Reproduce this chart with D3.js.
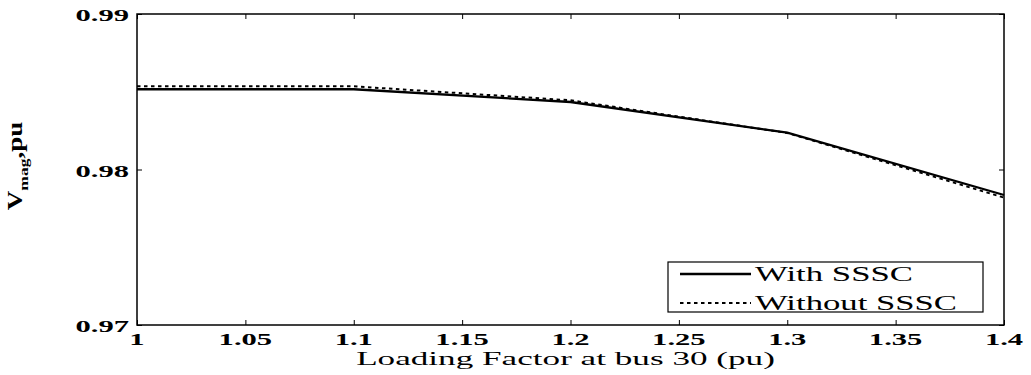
<!DOCTYPE html>
<html>
<head>
<meta charset="utf-8">
<script src="https://cdn.jsdelivr.net/npm/d3@7"></script>
<style>
  body { margin: 0; background: #fff; }
  text { font-family: "Liberation Serif", "DejaVu Serif", serif; fill: #000; }
</style>
</head>
<body>
<div id="chart"></div>
<script>
(function() {
	// loading factor at bus 30 and voltage magnitude (pu)
	var loading = [1, 1.1, 1.2, 1.3, 1.4];
	var withSSSC = [0.98516, 0.98516, 0.98434, 0.98237, 0.97836];
	var withoutSSSC = [0.98535, 0.98535, 0.98445, 0.98235, 0.97819];

	var xTicks = [1, 1.05, 1.1, 1.15, 1.2, 1.25, 1.3, 1.35, 1.4];
	var xTickLabels = ["1", "1.05", "1.1", "1.15", "1.2", "1.25", "1.3", "1.35", "1.4"];
	var yTicks = [0.97, 0.98, 0.99];
	var yTickLabels = ["0.97", "0.98", "0.99"];

	var seriesNames = ["With SSSC", "Without SSSC"];

	var margin = { top: 14, left: 137, right: 27, bottom: 50 },
		width = 1031 - margin.left - margin.right,
		height = 375 - margin.top - margin.bottom;

	var stretch = 1.8;   // the figure's text is drawn wide

	var svg = d3.select("#chart")
				.append("svg")
				.attr("width", 1031)
				.attr("height", 375);

	var g = svg.append("g")
				.attr("transform", "translate(" + margin.left + "," + margin.top + ")");

	var x = d3.scaleLinear().domain([1, 1.4]).range([0, width]);
	var y = d3.scaleLinear().domain([0.97, 0.99]).range([height, 0]);

	// inward ticks on all four sides, matlab style
	var tickLen = 5;
	var xAxisB = d3.axisBottom(x).tickValues(xTicks).tickSizeInner(-tickLen).tickSizeOuter(0).tickFormat("");
	var xAxisT = d3.axisTop(x).tickValues(xTicks).tickSizeInner(-tickLen).tickSizeOuter(0).tickFormat("");
	var yAxisL = d3.axisLeft(y).tickValues(yTicks).tickSizeInner(-tickLen).tickSizeOuter(0).tickFormat("");
	var yAxisR = d3.axisRight(y).tickValues(yTicks).tickSizeInner(-tickLen).tickSizeOuter(0).tickFormat("");

	g.append("g").attr("transform", "translate(0," + height + ")").call(xAxisB);
	g.append("g").call(xAxisT);
	g.append("g").call(yAxisL);
	g.append("g").attr("transform", "translate(" + width + ",0)").call(yAxisR);
	g.selectAll(".domain").remove();
	g.selectAll(".tick line").attr("stroke", "#000").attr("stroke-width", 1);

	g.append("rect")
		.attr("x", 0).attr("y", 0)
		.attr("width", width).attr("height", height)
		.attr("fill", "none")
		.attr("stroke", "#000")
		.attr("stroke-width", 1.5);

	// tick labels
	g.selectAll(".xlab")
		.data(xTicks)
		.enter()
		.append("text")
		.attr("class", "xlab")
		.attr("transform", function(d) {
			return "translate(" + x(d) + "," + (height + 20) + ") scale(" + stretch + ",1)"; })
		.attr("text-anchor", "middle")
		.style("font-size", "17px")
		.style("font-weight", "bold")
		.text(function(d, i) { return xTickLabels[i]; });

	g.selectAll(".ylab")
		.data(yTicks)
		.enter()
		.append("text")
		.attr("class", "ylab")
		.attr("transform", function(d) {
			return "translate(-8," + (y(d) + 7) + ") scale(" + stretch + ",1)"; })
		.attr("text-anchor", "end")
		.style("font-size", "17px")
		.style("font-weight", "bold")
		.text(function(d, i) { return yTickLabels[i]; });

	// axis titles
	g.append("text")
		.attr("transform", "translate(" + (width / 2 - 5) + "," + (height + 40) + ") scale(1.85,1)")
		.attr("text-anchor", "middle")
		.style("font-size", "19px")
		.text("Loading Factor at bus 30 (pu)");

	var yt = svg.append("text")
		.attr("transform", "translate(22,166) rotate(-90) scale(1.35,1)")
		.attr("text-anchor", "middle")
		.style("font-size", "20px")
		.style("font-weight", "bold");
	yt.append("tspan").text("V");
	yt.append("tspan").attr("dy", 6).style("font-size", "13px").text("mag");
	yt.append("tspan").attr("dy", -6).text(",pu");

	// lines
	var line = d3.line()
		.x(function(d) { return x(d[0]); })
		.y(function(d) { return y(d[1]); });

	g.append("path")
		.datum(d3.zip(loading, withoutSSSC))
		.attr("d", line)
		.attr("fill", "none")
		.attr("stroke", "#000")
		.attr("stroke-width", 2)
		.attr("stroke-dasharray", "3.5,3.5");

	g.append("path")
		.datum(d3.zip(loading, withSSSC))
		.attr("d", line)
		.attr("fill", "none")
		.attr("stroke", "#000")
		.attr("stroke-width", 2.3);

	// legend
	var leg = svg.append("g");
	leg.append("rect")
		.attr("x", 668).attr("y", 262)
		.attr("width", 315).attr("height", 50)
		.attr("fill", "#fff")
		.attr("stroke", "#000")
		.attr("stroke-width", 1.2);

	var rows = leg.selectAll(".row")
		.data(seriesNames)
		.enter()
		.append("g")
		.attr("transform", function(d, i) { return "translate(0," + (274 + i * 29) + ")"; });

	rows.append("line")
		.attr("x1", 680).attr("x2", 751)
		.attr("y1", 0).attr("y2", 0)
		.attr("stroke", "#000")
		.attr("stroke-width", function(d, i) { return i === 0 ? 2.3 : 2; })
		.attr("stroke-dasharray", function(d, i) { return i === 0 ? null : "3.5,3.5"; });

	rows.append("text")
		.attr("x", 755)
		.attr("y", 7)
		.attr("textLength", function(d, i) { return i === 0 ? 158 : 202; })
		.attr("lengthAdjust", "spacingAndGlyphs")
		.style("font-size", "21px")
		.text(function(d) { return d; });
})();
</script>
</body>
</html>
